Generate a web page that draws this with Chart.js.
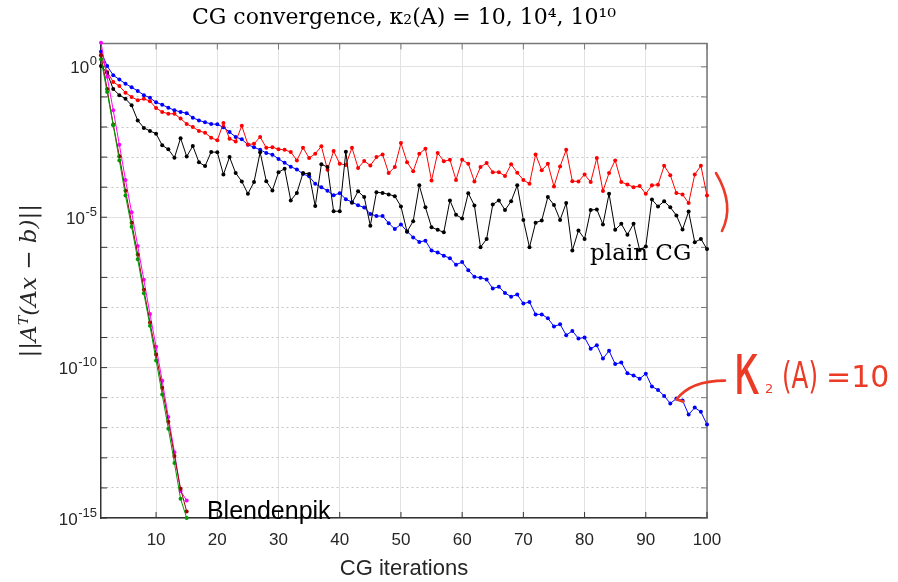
<!DOCTYPE html>
<html>
<head>
<meta charset="utf-8">
<script src="https://cdn.jsdelivr.net/npm/chart.js@4.4.1/dist/chart.umd.min.js"></script>
<style>
  html, body { margin: 0; padding: 0; background: #fff; }
</style>
</head>
<body>
<canvas id="cg" width="898" height="582"></canvas>
<script>
// log10 of ||A^T(Ax-b)|| for iterations 1..100
const plainK1 = [0.5, 0.03, -0.28, -0.42, -0.56, -0.68, -0.8, -0.94, -1.03, -1.18,
  -1.26, -1.36, -1.44, -1.5, -1.54, -1.69, -1.78, -1.84, -1.9, -1.91,
  -2.01, -2.17, -2.33, -2.41, -2.59, -2.67, -2.76, -2.86, -2.92, -3.06,
  -3.19, -3.32, -3.41, -3.56, -3.64, -3.89, -4.0, -4.12, -4.27, -4.2,
  -4.4, -4.5, -4.6, -4.68, -4.89, -4.96, -4.96, -5.2, -5.39, -5.24,
  -5.47, -5.67, -5.82, -5.78, -6.11, -6.17, -6.28, -6.36, -6.58, -6.49,
  -6.76, -6.98, -7.01, -7.07, -7.37, -7.31, -7.52, -7.64, -7.57, -7.87,
  -7.82, -8.23, -8.23, -8.36, -8.63, -8.56, -8.92, -8.78, -9.03, -9.0,
  -9.37, -9.26, -9.7, -9.44, -9.88, -9.83, -10.19, -10.26, -10.37, -10.2,
  -10.63, -10.74, -10.94, -11.19, -11.03, -11.09, -11.56, -11.33, -11.47, -11.89];

const plainK4 = [0.39, -0.17, -0.5, -0.64, -0.86, -1.0, -1.11, -1.06, -1.14, -1.37,
  -1.5, -1.56, -1.56, -1.72, -1.9, -2.0, -2.13, -2.19, -2.36, -2.44,
  -1.87, -2.39, -2.48, -1.96, -2.58, -2.56, -2.33, -2.69, -2.67, -2.74,
  -2.76, -2.83, -3.11, -2.69, -3.03, -2.89, -2.64, -3.42, -2.8, -3.22,
  -3.26, -2.69, -3.36, -3.13, -3.28, -3.0, -2.91, -3.53, -3.33, -2.53,
  -3.17, -3.47, -2.89, -2.72, -3.78, -2.86, -3.14, -3.09, -3.76, -3.09,
  -3.22, -3.81, -3.33, -3.2, -3.5, -3.5, -3.63, -3.24, -3.52, -3.76,
  -3.89, -2.91, -3.44, -3.22, -3.98, -3.31, -2.76, -3.8, -3.81, -3.58,
  -3.83, -3.03, -4.13, -3.53, -3.11, -3.83, -3.91, -4.0, -3.96, -4.22,
  -3.94, -3.92, -3.29, -3.6, -4.19, -4.24, -4.53, -3.58, -3.29, -4.28];

const plainK10 = [0.03, -0.2, -0.74, -0.94, -1.06, -1.28, -1.78, -2.03, -2.13, -2.22,
  -2.61, -2.74, -3.02, -2.37, -2.98, -2.63, -3.17, -3.3, -2.83, -2.84,
  -3.58, -3.0, -3.53, -3.81, -4.22, -3.83, -2.84, -3.8, -4.11, -3.5,
  -3.39, -4.44, -4.19, -3.53, -3.56, -4.63, -3.24, -3.33, -4.8, -4.8,
  -2.82, -4.52, -4.14, -4.33, -5.28, -4.17, -4.19, -4.24, -4.3, -4.64,
  -5.48, -5.13, -3.94, -4.67, -5.33, -5.42, -5.5, -4.44, -4.92, -5.04,
  -4.2, -4.61, -6.0, -5.72, -4.58, -4.44, -4.76, -4.47, -3.94, -5.09,
  -6.0, -5.18, -5.11, -4.33, -4.59, -5.09, -4.53, -6.11, -5.44, -5.72,
  -4.76, -4.74, -5.24, -4.22, -5.42, -5.22, -5.58, -5.22, -6.09, -5.97,
  -4.41, -4.64, -4.47, -4.67, -4.94, -5.41, -4.81, -5.83, -5.72, -6.06];

// Blendenpik-preconditioned runs, iterations 1..15
const blendMagenta = [0.8, -0.33, -1.44, -2.59, -3.76, -4.83, -5.96, -7.08, -8.22, -9.31, -10.44, -11.64, -12.81, -14.1, -14.42];
const blendDarkRed = [0.39, -0.74, -1.92, -2.97, -4.12, -5.18, -6.24, -7.41, -8.5, -9.56, -10.67, -11.8, -12.94, -14.03, -14.78];
const blendGreen = [0.25, -0.84, -1.94, -3.11, -4.28, -5.32, -6.4, -7.53, -8.61, -9.76, -10.89, -12.03, -13.17, -14.36, -15.0];

const xTicks = [10, 20, 30, 40, 50, 60, 70, 80, 90, 100];
const decades = [0, -1, -2, -3, -4, -5, -6, -7, -8, -9, -10, -11, -12, -13, -14, -15];
const labelledDecades = [0, -5, -10, -15];

const isMajor = c => c.tick && Math.round(Math.log10(c.tick.value)) % 5 === 0;

function series(label, logs, color) {
  return {
    label: label,
    data: logs.map((e, i) => ({ x: i + 1, y: Math.pow(10, e) })),
    borderColor: color,
    backgroundColor: color,
    borderWidth: 1,
    pointRadius: 2,
    pointHoverRadius: 2,
    pointBorderWidth: 0,
    clip: 6,
  };
}

// box on the top/right sides and MATLAB-style inward ticks
const frame = {
  id: 'frame',
  beforeDatasetsDraw(chart) {
    const { ctx, chartArea: a, scales: { x, y } } = chart;
    const len = 6;
    ctx.save();
    ctx.lineWidth = 1.5;
    ctx.strokeStyle = '#777';
    ctx.beginPath();
    ctx.moveTo(a.left, a.top);
    ctx.lineTo(a.right, a.top);
    ctx.lineTo(a.right, a.bottom);
    ctx.stroke();

    ctx.lineWidth = 1;
    x.ticks.forEach(t => {
      const px = x.getPixelForValue(t.value);
      ctx.strokeStyle = '#333';
      ctx.beginPath(); ctx.moveTo(px, a.bottom); ctx.lineTo(px, a.bottom - len); ctx.stroke();
      ctx.strokeStyle = '#777';
      ctx.beginPath(); ctx.moveTo(px, a.top); ctx.lineTo(px, a.top + len); ctx.stroke();
    });
    y.ticks.forEach(t => {
      const py = y.getPixelForValue(t.value);
      ctx.strokeStyle = '#333';
      ctx.beginPath(); ctx.moveTo(a.left, py); ctx.lineTo(a.left + len, py); ctx.stroke();
      ctx.strokeStyle = '#777';
      ctx.beginPath(); ctx.moveTo(a.right, py); ctx.lineTo(a.right - len, py); ctx.stroke();
    });

    // y tick labels as 10 with a raised exponent
    ctx.fillStyle = '#262626';
    ctx.textAlign = 'right';
    ctx.textBaseline = 'alphabetic';
    labelledDecades.forEach(e => {
      const py = y.getPixelForValue(Math.pow(10, e));
      const exp = e === 0 ? '0' : '-' + String(-e);
      const right = a.left - 4;
      ctx.font = '13px "Liberation Sans", Arial, sans-serif';
      const w = ctx.measureText(exp).width;
      ctx.fillText(exp, right, py - 1.5);
      ctx.font = '17px "Liberation Sans", Arial, sans-serif';
      ctx.fillText('10', right - w - 0.5, py + 6.5);
    });
    ctx.restore();
  }
};

// text labels in the plot and the red handwritten note
const notes = {
  id: 'notes',
  afterDraw(chart) {
    const { ctx, chartArea: a, scales: { x, y } } = chart;
    ctx.save();
    ctx.fillStyle = '#000';
    ctx.textBaseline = 'alphabetic';
    ctx.textAlign = 'left';

    ctx.font = '23px "DejaVu Serif"';
    ctx.fillText('plain CG', x.getPixelForValue(80.9), y.getPixelForValue(Math.pow(10, -6.43)));

    ctx.font = '25px "Liberation Sans"';
    ctx.fillText('Blendenpik', x.getPixelForValue(18.3), y.getPixelForValue(1e-15) + 0.5);

    // red ink
    const ink = '#eb3b26';
    ctx.strokeStyle = ink;
    ctx.fillStyle = ink;
    ctx.lineWidth = 2.6;
    ctx.lineCap = 'round';
    ctx.lineJoin = 'round';

    // bracket next to the two plateaus
    const bx = a.right;
    ctx.beginPath();
    ctx.moveTo(bx + 9, 173);
    ctx.quadraticCurveTo(bx + 28, 205, bx + 15, 231);
    ctx.stroke();

    // arrow to the kappa=10 curve at iteration 95
    const tipX = x.getPixelForValue(95);
    const tipY = y.getPixelForValue(Math.pow(10, plainK1[94]));
    ctx.beginPath();
    ctx.moveTo(bx + 18, tipY - 18);
    ctx.quadraticCurveTo(tipX + 14, tipY - 18, tipX, tipY + 1);
    ctx.lineTo(tipX + 7, tipY + 3);
    ctx.stroke();

    const tx = bx + 26;
    ctx.save();
    ctx.translate(tx, 394);
    ctx.scale(1, 1.6);
    ctx.font = '46px "DejaVu Sans"';
    ctx.fillText('κ', 0, 0);
    ctx.restore();
    ctx.font = '13px "DejaVu Sans"';
    ctx.fillText('2', tx + 32, 393);
    ctx.font = '38px "DejaVu Sans"';
    ctx.fillText('(A)', tx + 49, 388, 36);
    ctx.font = '30px "DejaVu Sans"';
    ctx.fillText('=10', tx + 93, 387, 64);
    ctx.restore();
  }
};

const tickFont = { family: '"Liberation Sans", Arial, sans-serif', size: 17 };

new Chart(document.getElementById('cg'), {
  type: 'line',
  data: {
    datasets: [
      series('Blendenpik, 10^10', blendGreen, '#009a00'),
      series('Blendenpik, 10^4', blendDarkRed, '#a00000'),
      series('Blendenpik, 10', blendMagenta, '#ff00ff'),
      series('plain CG, 10^10', plainK10, '#000000'),
      series('plain CG, 10^4', plainK4, '#ff0000'),
      series('plain CG, 10', plainK1, '#0000ff'),
    ]
  },
  options: {
    responsive: false,
    animation: false,
    devicePixelRatio: 1,
    layout: { padding: { left: 0, right: 191, top: 0, bottom: 0 } },
    plugins: {
      legend: { display: false },
      tooltip: { enabled: false },
      title: {
        display: true,
        fullSize: false,
        text: 'CG convergence, κ₂(A) = 10, 10⁴, 10¹⁰',
        color: '#000',
        font: { family: '"DejaVu Serif"', size: 22, weight: 'normal' },
        padding: { top: 5, bottom: 12 }
      }
    },
    scales: {
      x: {
        type: 'linear',
        min: 1,
        max: 100,
        afterBuildTicks: s => { s.ticks = xTicks.map(v => ({ value: v })); },
        afterFit: s => { s.height = 64; },
        grid: { color: '#e2e2e2', lineWidth: 1, drawTicks: false },
        border: { color: '#333', width: 1.5 },
        ticks: { color: '#262626', font: tickFont, padding: 12, maxRotation: 0, autoSkip: false },
        title: {
          display: true,
          text: 'CG iterations',
          color: '#262626',
          font: { family: '"Liberation Sans", Arial, sans-serif', size: 22 },
          padding: { top: 0, bottom: 0 }
        }
      },
      y: {
        type: 'logarithmic',
        min: 1e-15,
        max: Math.pow(10, 0.78),
        afterBuildTicks: s => { s.ticks = decades.map(e => ({ value: Math.pow(10, e) })); },
        afterFit: s => { s.width = 101; },
        grid: {
          drawTicks: false,
          lineWidth: 1,
          color: c => isMajor(c) ? '#e2e2e2' : '#c4c4c4'
        },
        border: {
          color: '#333',
          width: 1.5,
          dash: c => (c.tick && !isMajor(c)) ? [2, 3] : []
        },
        ticks: { display: false, autoSkip: false },
        title: {
          display: true,
          text: '||Aᵀ(Ax − b)||',
          color: '#262626',
          font: { family: '"DejaVu Serif"', size: 23, style: 'italic' },
          padding: { top: 16, bottom: 0 }
        }
      }
    }
  },
  plugins: [frame, notes]
});
</script>
</body>
</html>
